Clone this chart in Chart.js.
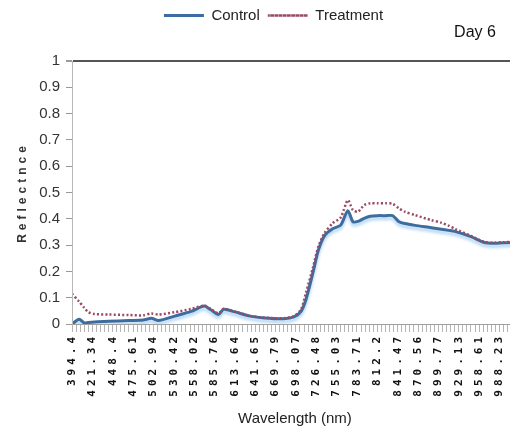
<!DOCTYPE html>
<html><head><meta charset="utf-8">
<script src="https://cdn.jsdelivr.net/npm/chart.js@4.4.0/dist/chart.umd.min.js"></script>
<style>
html,body{margin:0;padding:0;background:#fff;overflow:hidden;width:510px;height:436px}
#wrap{position:absolute;left:0;top:0;width:530px;height:436px}
</style></head><body>
<div id="wrap"><canvas id="c" width="530" height="436"></canvas></div>
<script>
// Wavelength tick labels (one every category step on the axis)
const tickLabels = ['394.4','421.34','448.4','475.61','502.94','530.42','558.02','585.76','613.64','641.65','669.79','698.07','726.48','755.03','783.71','812.2','841.47','870.56','899.77','929.13','958.61','988.23'];
// Sample positions along the axis, in label-step units (0 = 394.4 nm, 1 = 421.34 nm, ...)
const samplePositions = [0,0.35,0.6,0.8,1.1,1.8,2.8,3.5,3.9,4.25,5.05,5.85,6.5,6.8,7.2,7.45,8.0,8.75,9.45,10.4,10.9,11.25,11.5,11.85,12.1,12.4,12.8,13.2,13.55,13.8,14.05,14.35,14.65,15.0,15.4,15.75,16.05,16.35,16.85,17.65,18.15,18.5,18.8,19.6,20.25,20.75,21.2,21.9];
const controlValues = [0.0,0.018,0.004,0.006,0.008,0.01,0.013,0.015,0.022,0.013,0.03,0.048,0.068,0.055,0.036,0.056,0.046,0.03,0.023,0.02,0.027,0.048,0.095,0.2,0.28,0.335,0.362,0.376,0.431,0.389,0.39,0.402,0.41,0.412,0.412,0.412,0.39,0.382,0.375,0.366,0.36,0.356,0.352,0.332,0.31,0.307,0.309,0.31];
const treatmentValues = [0.115,0.085,0.062,0.045,0.038,0.036,0.034,0.033,0.04,0.036,0.045,0.057,0.07,0.058,0.04,0.058,0.047,0.031,0.024,0.022,0.03,0.055,0.12,0.218,0.294,0.345,0.383,0.405,0.471,0.433,0.427,0.452,0.459,0.459,0.459,0.457,0.44,0.427,0.414,0.395,0.385,0.374,0.362,0.335,0.312,0.309,0.311,0.312];
const yTickLabels = ['0','0.1','0.2','0.3','0.4','0.5','0.6','0.7','0.8','0.9','1'];
const seriesNames = ['Control','Treatment'];
const panelLabel = 'Day 6';

const SANS = "'Liberation Sans',Arial,sans-serif";
const X_MAX = 21.9;

const helperPlugin = {
  id: 'helper',
  beforeInit(chart) {
    const lg = chart.legend;
    if (lg) {
      const f = lg.fit;
      lg.fit = function () { f.call(this); this.height = 61; };
      const d = lg.draw;
      lg.draw = function () { this.ctx.save(); this.ctx.translate(12, 0); d.call(this); this.ctx.restore(); };
    }
  },
  beforeDatasetDraw(chart, args) {
    if (args.index === 0) {
      const c = chart.ctx; c.save();
      c.shadowColor = 'rgba(120,185,235,0.6)'; c.shadowOffsetY = 3; c.shadowBlur = 3;
    }
  },
  afterDatasetDraw(chart, args) { if (args.index === 0) chart.ctx.restore(); },
  afterDatasetsDraw(chart) { chart.ctx.letterSpacing = '4px'; },
  afterDraw(chart) {
    const c = chart.ctx;
    c.letterSpacing = '0px';
    c.save();
    c.font = '16px ' + SANS;
    c.fillStyle = '#111';
    c.textAlign = 'center';
    c.textBaseline = 'middle';
    c.fillText(panelLabel, 475, 33);
    c.restore();
  }
};

new Chart(document.getElementById('c'), {
  type: 'line',
  data: {
    datasets: [
      { label: seriesNames[0], data: samplePositions.map((x, i) => ({ x, y: controlValues[i] })),
        borderColor: '#3d6c9e', backgroundColor: '#3d6c9e', borderWidth: 3, pointRadius: 0, tension: 0.25, order: 1 },
      { label: seriesNames[1], data: samplePositions.map((x, i) => ({ x, y: treatmentValues[i] })),
        borderColor: '#9a4a62', backgroundColor: '#9a4a62', borderWidth: 2.5, borderDash: [2, 2.2], pointRadius: 0, tension: 0.25, order: 0 }
    ]
  },
  options: {
    responsive: false, animation: false, devicePixelRatio: 1,
    layout: { padding: { left: 0, right: 7, top: 0, bottom: 0 } },
    plugins: {
      legend: { position: 'top',
        labels: { usePointStyle: false, boxWidth: 40, boxHeight: 0, padding: 8, color: '#222',
          font: { family: SANS, size: 15 },
          sort: (a, b) => a.datasetIndex - b.datasetIndex,
          generateLabels(chart) {
            const items = Chart.defaults.plugins.legend.labels.generateLabels(chart);
            items.forEach(it => { const ds = chart.data.datasets[it.datasetIndex]; it.fillStyle = 'rgba(0,0,0,0)'; it.lineWidth = ds.borderWidth; it.lineDash = ds.borderDash || []; });
            return items;
          } } },
      title: { display: false }, tooltip: { enabled: false }
    },
    scales: {
      x: { type: 'linear', min: 0, max: X_MAX,
        afterBuildTicks(scale) { const t = []; for (let k = 0; k <= Math.floor(X_MAX * 5 + 1e-9); k++) t.push({ value: k / 5 }); scale.ticks = t; },
        afterFit(scale) { scale.height = 112; },
        grid: { drawOnChartArea: false, drawTicks: true, tickLength: 8, color: '#b4b4b4', lineWidth: 1 },
        border: { display: true, color: '#a0a0a0' },
        ticks: { z: 1, autoSkip: false, minRotation: 90, maxRotation: 90, padding: 1, color: '#111',
          font: { family: "'DejaVu Sans Mono',monospace", size: 11, weight: 'bold' },
          callback(v) { const r = Math.round(v); return (Math.abs(v - r) < 1e-6 && r < tickLabels.length) ? tickLabels[r] : ''; } },
        title: { display: true, text: 'Wavelength (nm)', color: '#222', font: { family: SANS, size: 15 }, padding: { top: 0, bottom: 8 } }
      },
      y: { min: 0, max: 1,
        afterFit(scale) { scale.width = 72; },
        ticks: { stepSize: 0.1, padding: 6, color: '#333', font: { family: SANS, size: 15 },
          callback(v) { const r = Math.round(v * 10); return yTickLabels[r]; } },
        grid: { z: 1, drawTicks: true, tickLength: 6, tickColor: '#999',
          color: c => (Math.abs(c.tick.value - 1) < 1e-9 ? '#555' : 'rgba(0,0,0,0)'),
          lineWidth: c => (Math.abs(c.tick.value - 1) < 1e-9 ? 2 : 1) },
        border: { z: 1, color: '#b8b8b8' },
        title: { display: true, text: 'Reflectnce', color: '#333', font: { family: SANS, size: 12, weight: 'bold' }, padding: { top: 15, bottom: 0 } }
      }
    }
  },
  plugins: [helperPlugin]
});
</script>
</body></html>
